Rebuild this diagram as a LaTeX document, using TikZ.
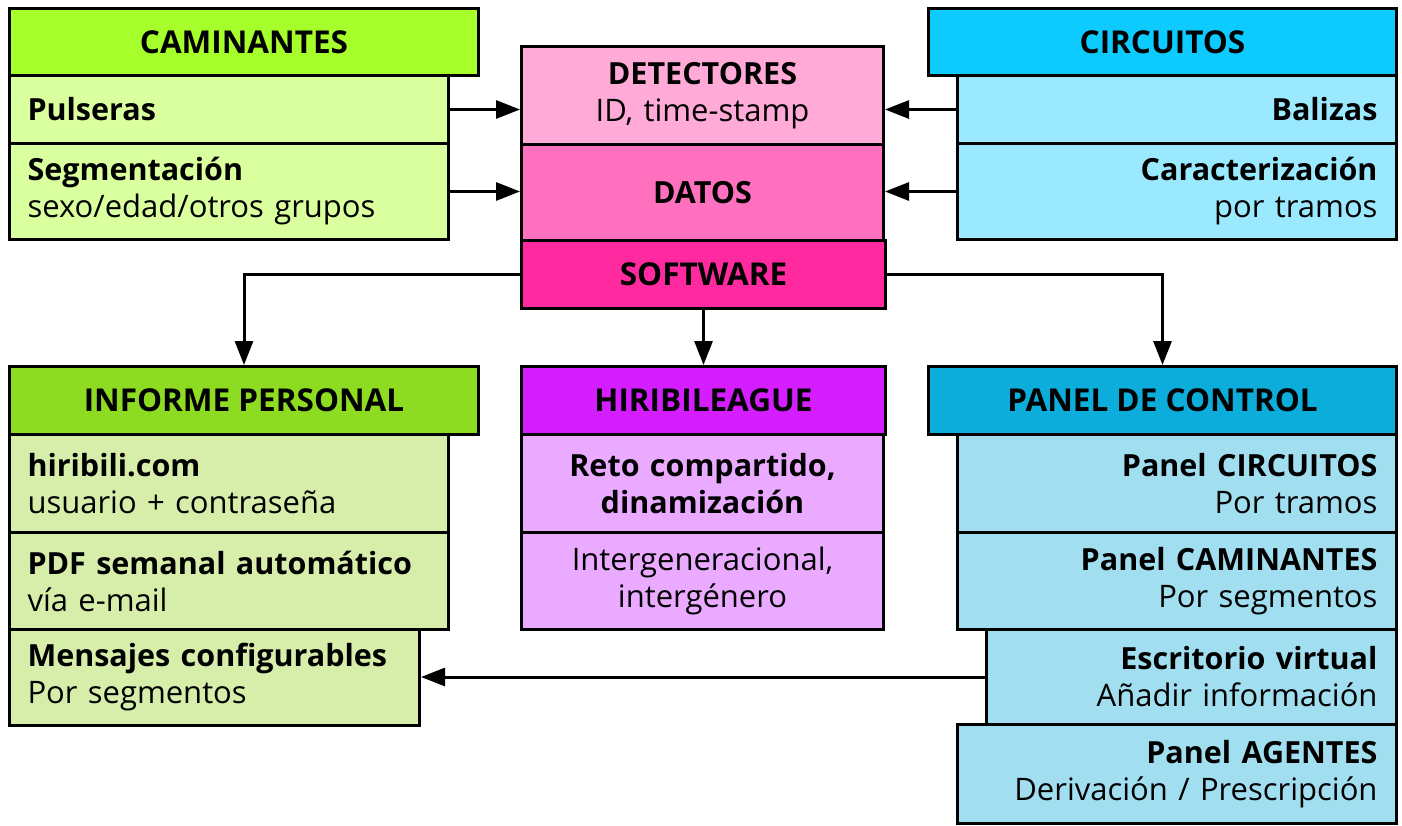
\documentclass[tikz,border=0pt]{standalone}
\usepackage{fontspec}
\setmainfont{Open Sans}
\usetikzlibrary{arrows.meta}
\definecolor{camH}{RGB}{166,255,42}
\definecolor{camR}{RGB}{218,255,158}
\definecolor{detA}{RGB}{255,170,215}
\definecolor{detB}{RGB}{255,113,190}
\definecolor{detC}{RGB}{255,42,160}
\definecolor{cirH}{RGB}{13,202,255}
\definecolor{cirR}{RGB}{155,233,255}
\definecolor{infH}{RGB}{141,220,34}
\definecolor{infR}{RGB}{214,238,170}
\definecolor{hirH}{RGB}{213,30,255}
\definecolor{hirR}{RGB}{234,170,255}
\definecolor{panH}{RGB}{12,173,218}
\definecolor{panR}{RGB}{160,222,240}
\newcommand\bt[1]{{\fontsize{30.5}{37}\selectfont\bfseries #1}}
\tikzset{
  cell/.style={draw, line width=3pt, anchor=north west, inner ysep=0pt, inner xsep=18pt,
    font=\fontsize{31}{37}\selectfont},
  hdr/.style={cell, align=center, font=\fontsize{31.5}{37}\selectfont\bfseries},
  rowl/.style={cell, align=left},
  rowr/.style={cell, align=right, inner xsep=19pt},
  arr/.style={line width=3pt, -{Triangle[length=24pt,width=18pt]}},
}
\begin{document}
\begin{tikzpicture}[x=1pt,y=-1pt]
\useasboundingbox (0,0) rectangle (1402,826);
% CAMINANTES
\node[hdr, fill=camH, minimum width=469pt, minimum height=67pt] (cam) at (8,7) {CAMINANTES};
\node[rowl, fill=camR, text width=403pt, minimum height=68pt] (pul) at (8,74) {\bt{Pulseras}};
\node[rowl, fill=camR, text width=403pt, minimum height=96pt] (seg) at (8,142) {\bt{Segmentación}\\sexo/edad/otros grupos};
% DETECTORES
\node[cell, align=center, fill=detA, text width=326pt, minimum height=98pt] (det) at (520,45) {\bt{DETECTORES}\\ID, time-stamp};
\node[cell, align=center, fill=detB, text width=326pt, minimum height=96pt] (dat) at (520,143) {\bt{DATOS}};
\node[hdr, fill=detC, minimum width=364pt, minimum height=68pt] (sw) at (520,239) {SOFTWARE};
% CIRCUITOS
\node[hdr, fill=cirH, minimum width=468pt, minimum height=67pt] (cir) at (927,7) {CIRCUITOS};
\node[rowr, fill=cirR, text width=401pt, minimum height=68pt] (bal) at (956,74) {\bt{Balizas}};
\node[rowr, fill=cirR, text width=401pt, minimum height=96pt] (car) at (956,142) {\bt{Caracterización}\\por tramos};
% INFORME PERSONAL
\node[hdr, fill=infH, minimum width=469pt, minimum height=68pt] (inf) at (8,365) {INFORME PERSONAL};
\node[rowl, fill=infR, text width=403pt, minimum height=98pt] (hir1) at (8,433) {\bt{hiribili.com}\\usuario + contraseña};
\node[rowl, fill=infR, text width=403pt, minimum height=97pt] (pdf) at (8,531) {\bt{PDF semanal automático}\\vía e-mail};
\node[rowl, fill=infR, text width=374pt, minimum height=96pt] (men) at (8,628) {\bt{Mensajes configurables}\\Por segmentos};
% HIRIBILEAGUE
\node[hdr, fill=hirH, minimum width=364pt, minimum height=68pt] (hir) at (520,365) {HIRIBILEAGUE};
\node[cell, align=center, fill=hirR, text width=326pt, minimum height=98pt] (reto) at (520,433) {\bt{Reto compartido,}\\\bt{dinamización}};
\node[cell, align=center, fill=hirR, text width=326pt, minimum height=97pt] (intg) at (520,531) {Intergeneracional,\\intergénero};
% PANEL DE CONTROL
\node[hdr, fill=panH, minimum width=468pt, minimum height=68pt] (pan) at (927,365) {PANEL DE CONTROL};
\node[rowr, fill=panR, text width=401pt, minimum height=98pt] (pc) at (956,433) {\bt{Panel CIRCUITOS}\\Por tramos};
\node[rowr, fill=panR, text width=401pt, minimum height=97pt] (pca) at (956,531) {\bt{Panel CAMINANTES}\\Por segmentos};
\node[rowr, fill=panR, text width=372pt, minimum height=95pt] (esc) at (985,628) {\bt{Escritorio virtual}\\Añadir información};
\node[rowr, fill=panR, text width=401pt, minimum height=99pt] (age) at (956,723) {\bt{Panel AGENTES}\\Derivación / Prescripción};
% connectors
\draw[arr] (pul.east) -- (pul.east -| det.west);
\draw[arr] (seg.east) -- (seg.east -| dat.west);
\draw[arr] (bal.west) -- (bal.west -| det.east);
\draw[arr] (car.west) -- (car.west -| dat.east);
\draw[arr] (sw.west) -| (inf.north);
\draw[arr] (sw.south) -- (hir.north);
\draw[arr] (sw.east) -| (pan.north);
\draw[arr] (esc.west) -- (esc.west -| men.east);
\end{tikzpicture}
\end{document}
